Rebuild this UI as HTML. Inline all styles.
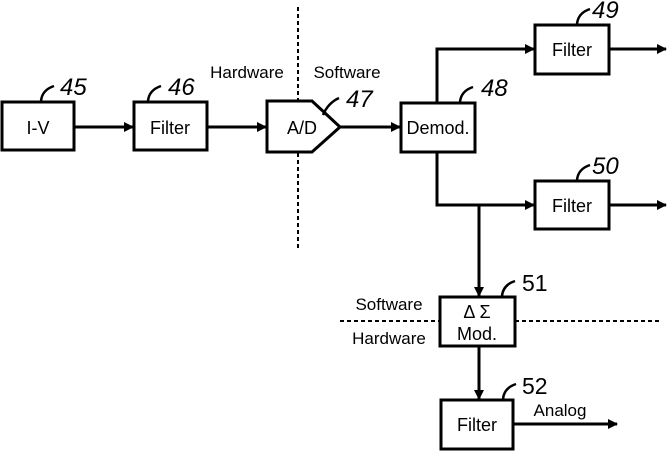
<!DOCTYPE html>
<html><head><style>html,body{margin:0;padding:0;background:#fff}svg{display:block}
text{font-family:"Liberation Sans",sans-serif;fill:#000}</style></head><body>
<svg width="667" height="452" viewBox="0 0 667 452" xmlns="http://www.w3.org/2000/svg">
<defs><marker id="a" markerWidth="10" markerHeight="10" refX="9" refY="5" orient="auto" markerUnits="userSpaceOnUse"><path d="M0,0 L10,5 L0,10 Z" fill="#000"/></marker></defs>
<g fill="none" stroke="#000" stroke-width="3">
<rect x="2" y="102" width="72" height="48"/>
<rect x="134" y="102" width="73" height="48"/>
<path d="M267,101 L312,101 L340,127 L312,152 L267,152 Z"/>
<rect x="401" y="103" width="74" height="49"/>
<rect x="535" y="25" width="74" height="49"/>
<rect x="535" y="181" width="74" height="48"/>
<rect x="440" y="297" width="75" height="49"/>
<rect x="441" y="400" width="72" height="49"/>
<line x1="74" y1="127" x2="133" y2="127" marker-end="url(#a)"/>
<line x1="207" y1="127" x2="266" y2="127" marker-end="url(#a)"/>
<line x1="340" y1="127" x2="400" y2="127" marker-end="url(#a)"/>
<polyline points="437,103 437,49 534,49" marker-end="url(#a)"/>
<polyline points="437,152 437,205 534,205" marker-end="url(#a)"/>
<line x1="479" y1="205" x2="479" y2="296" marker-end="url(#a)"/>
<line x1="479" y1="346" x2="479" y2="399" marker-end="url(#a)"/>
<line x1="609" y1="49" x2="666" y2="49" marker-end="url(#a)"/>
<line x1="609" y1="205" x2="666" y2="205" marker-end="url(#a)"/>
<line x1="513" y1="424" x2="617" y2="424" marker-end="url(#a)"/>
</g>
<g fill="none" stroke="#000" stroke-width="2" stroke-dasharray="4,3">
<line x1="298" y1="7" x2="298" y2="100"/>
<line x1="298" y1="153" x2="298" y2="248"/>
<line x1="340" y1="321" x2="440" y2="321"/>
<line x1="515" y1="321" x2="660" y2="321"/>
</g>
<g fill="none" stroke="#000" stroke-width="2.5">
<path d="M41,101 Q42,90 54,86"/>
<path d="M148,101 Q149,90 161,86"/>
<path d="M323,115 Q328,103 339,98"/>
<path d="M460,102 Q461,91 473,87"/>
<path d="M577,24 Q578,13 590,9"/>
<path d="M577,180 Q578,169 590,165"/>
<path d="M502,296 Q503,285 515,281"/>
<path d="M503,399 Q504,388 516,384"/>
</g>
<g font-size="18" text-anchor="middle">
<text x="38" y="134">I-V</text>
<text x="170" y="134">Filter</text>
<text x="302" y="134">A/D</text>
<text x="438" y="134">Demod.</text>
<text x="572" y="56">Filter</text>
<text x="572" y="212">Filter</text>
<text x="477" y="318">Δ Σ</text>
<text x="477" y="340">Mod.</text>
<text x="477" y="431">Filter</text>
</g>
<g font-size="17" text-anchor="middle">
<text x="247" y="78">Hardware</text>
<text x="347" y="78">Software</text>
<text x="389" y="310">Software</text>
<text x="389" y="344">Hardware</text>
<text x="560" y="416">Analog</text>
</g>
<g font-size="24" font-style="italic">
<text x="60" y="95">45</text>
<text x="168" y="95">46</text>
<text x="346" y="107">47</text>
<text x="481" y="96">48</text>
<text x="592" y="18">49</text>
<text x="592" y="174">50</text>
</g>
<g font-size="23">
<text x="522" y="291">51</text>
<text x="522" y="394">52</text>
</g>
</svg>
</body></html>
